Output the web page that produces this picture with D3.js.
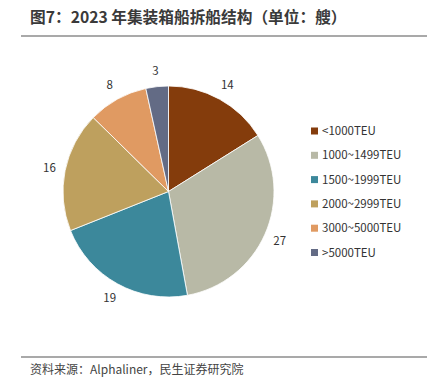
<!DOCTYPE html>
<html lang="zh">
<head>
<meta charset="UTF-8">
<script src="https://d3js.org/d3.v7.min.js"></script>
<style>
    body { margin: 0; background: #fff; }
    svg { display: block; font-family: "Noto Sans CJK SC", "Noto Sans", sans-serif; }
</style>
</head>
<body>
<svg id="chart" width="434" height="391"></svg>
<script>
    const categories = ['<1000TEU', '1000~1499TEU', '1500~1999TEU', '2000~2999TEU', '3000~5000TEU', '>5000TEU'];
    const values = [14, 27, 19, 16, 8, 3];
    const colors = ['#843C0C', '#B8B9A6', '#3C889B', '#BEA05E', '#E09A62', '#636B85'];

    const svg = d3.select('#chart');
    const cx = 168.5, cy = 191.5, radius = 105.5;

    // title + rules
    svg.append('text')
        .attr('x', 30).attr('y', 23)
        .attr('font-size', 15.7).attr('font-weight', 'bold').attr('fill', '#3a3a3a')
        .text('图7：2023 年集装箱船拆船结构（单位：艘）');
    svg.append('line').attr('x1', 21).attr('x2', 427).attr('y1', 36).attr('y2', 36)
        .attr('stroke', '#555').attr('stroke-width', 1.2);
    svg.append('line').attr('x1', 21).attr('x2', 427).attr('y1', 357).attr('y2', 357)
        .attr('stroke', '#555').attr('stroke-width', 1.2);
    svg.append('text')
        .attr('x', 30).attr('y', 374)
        .attr('font-size', 12).attr('fill', '#444')
        .text('资料来源：Alphaliner，民生证券研究院');

    const pie = d3.pie().sort(null).value(d => d);
    const arcs = pie(values);
    const arc = d3.arc().innerRadius(0).outerRadius(radius);
    const labelArc = d3.arc().innerRadius(radius + 16).outerRadius(radius + 16);

    const g = svg.append('g').attr('transform', `translate(${cx},${cy})`);
    g.selectAll('path')
        .data(arcs)
        .enter()
        .append('path')
        .attr('d', arc)
        .attr('fill', (d, i) => colors[i])
        .attr('stroke', '#fff')
        .attr('stroke-width', 0.8);

    g.selectAll('.lbl')
        .data(arcs)
        .enter()
        .append('text')
        .attr('class', 'lbl')
        .attr('transform', d => `translate(${labelArc.centroid(d)})`)
        .attr('text-anchor', 'middle')
        .attr('dy', '0.35em')
        .attr('font-size', 11.5)
        .attr('fill', '#333')
        .text(d => d.data);

    // legend
    const legend = svg.append('g').attr('transform', 'translate(311,131)');
    const rows = legend.selectAll('g')
        .data(categories)
        .enter()
        .append('g')
        .attr('transform', (d, i) => `translate(0,${i * 24.3})`);
    rows.append('rect')
        .attr('x', 0).attr('y', -3.5).attr('width', 7).attr('height', 7)
        .attr('fill', (d, i) => colors[i]);
    rows.append('text')
        .attr('x', 11).attr('dy', '0.35em')
        .attr('font-size', 11.5).attr('fill', '#333')
        .text(d => d);
</script>
</body>
</html>
